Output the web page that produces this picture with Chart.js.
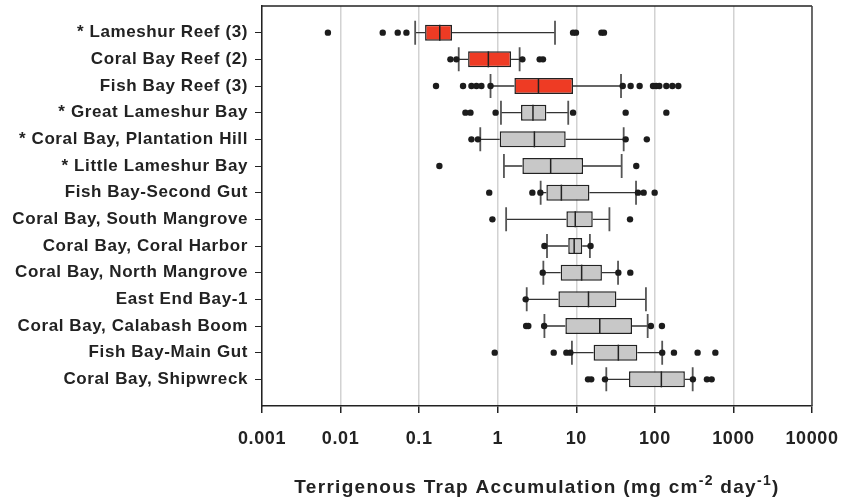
<!DOCTYPE html>
<html>
<head>
<meta charset="utf-8">
<script src="https://cdn.jsdelivr.net/npm/chart.js@4.4.0/dist/chart.umd.min.js"></script>
<style>
    body { margin: 0; background: #fff; }
    canvas { display: block; }
</style>
</head>
<body>
<canvas id="trapChart" width="841" height="503"></canvas>
<script>
(function () {
    'use strict';

    var sites = ['* Lameshur Reef (3)', 'Coral Bay Reef (2)', 'Fish Bay Reef (3)', '* Great Lameshur Bay',
        '* Coral Bay, Plantation Hill', '* Little Lameshur Bay', 'Fish Bay-Second Gut', 'Coral Bay, South Mangrove',
        'Coral Bay, Coral Harbor', 'Coral Bay, North Mangrove', 'East End Bay-1', 'Coral Bay, Calabash Boom',
        'Fish Bay-Main Gut', 'Coral Bay, Shipwreck'];

    // five-number summaries, mg cm-2 day-1
    var lowWhisker = [0.089, 0.319, 0.81, 1.1, 0.6, 1.2, 3.52, 1.28, 4.24, 3.81, 2.34, 3.93, 8.8, 24.1];
    var q1 = [0.119, 0.42, 1.63, 1.98, 1.06, 2.06, 4.16, 7.48, 7.9, 6.33, 5.92, 7.26, 16.6, 46.9];
    var median = [0.183, 0.76, 3.3, 2.81, 2.93, 4.72, 6.46, 9.7, 9.4, 11.7, 14.3, 19.9, 34.3, 121];
    var q3 = [0.262, 1.48, 9.08, 4.16, 7.33, 12.2, 14.7, 16.2, 11.9, 21.2, 32.4, 51.2, 59.8, 241];
    var highWhisker = [5.36, 1.9, 37.1, 7.9, 40.1, 37.8, 57.6, 26.4, 14.9, 34, 77, 81, 124, 303];

    var outliers = [
        [0.0069, 0.0344, 0.0534, 0.0689, 9.1, 9.9, 20.9, 22.5],
        [0.25, 0.298, 2.06, 3.42, 3.77],
        [0.164, 0.362, 0.463, 0.536, 0.62, 0.81, 39, 49.2, 64, 94.7, 104, 114, 140, 167, 199],
        [0.388, 0.45, 0.94, 9.1, 42.5, 140],
        [0.463, 0.56, 42.5, 79],
        [0.181, 58],
        [0.78, 2.76, 3.49, 61, 72, 99.4],
        [0.856, 48.3],
        [3.93, 15.2],
        [3.74, 34.3, 48.7],
        [2.27],
        [2.3, 2.45, 3.9, 89, 123],
        [0.916, 5.16, 7.48, 8.4, 124, 175, 350, 589],
        [14.1, 15.5, 23.2, 305, 460, 528]
    ];

    var xTicks = [0.001, 0.01, 0.1, 1, 10, 100, 1000, 10000];

    var FONT = '"Liberation Sans", Arial, sans-serif';
    var INK = '#222';

    // blank slots above and below so the rows sit half a step from the frame
    var labels = [''].concat(sites, ['']);

    var boxData = [null];
    var boxColors = [null];
    sites.forEach(function (name, i) {
        boxData.push([q1[i], q3[i]]);
        boxColors.push(name.indexOf('Reef') >= 0 ? '#ee3b24' : '#c8c8c8');
    });
    boxData.push(null);
    boxColors.push(null);

    var points = [];
    outliers.forEach(function (row, i) {
        row.forEach(function (v) {
            points.push({ x: v, y: sites[i] });
        });
    });

    var boxPlot = {
        id: 'boxPlot',
        beforeDraw: function (chart) {
            chart.ctx.letterSpacing = '0.6px';
        },
        beforeDatasetsDraw: function (chart) {
            var ctx = chart.ctx, xs = chart.scales.x, ys = chart.scales.y, area = chart.chartArea;
            var cap = (ys.getPixelForValue(2) - ys.getPixelForValue(1)) * 0.45;
            ctx.save();
            // top and right edges of the frame
            ctx.lineWidth = 1.5;
            ctx.strokeStyle = INK;
            ctx.beginPath();
            ctx.moveTo(area.left, area.top);
            ctx.lineTo(area.right, area.top);
            ctx.stroke();
            ctx.strokeStyle = '#444';
            ctx.beginPath();
            ctx.moveTo(area.right, area.top);
            ctx.lineTo(area.right, area.bottom);
            ctx.stroke();

            sites.forEach(function (name, i) {
                var y = ys.getPixelForValue(i + 1);
                var lo = xs.getPixelForValue(lowWhisker[i]);
                var hi = xs.getPixelForValue(highWhisker[i]);
                ctx.strokeStyle = '#333';
                ctx.lineWidth = 1.4;
                ctx.beginPath();
                ctx.moveTo(lo, y);
                ctx.lineTo(xs.getPixelForValue(q1[i]), y);
                ctx.moveTo(xs.getPixelForValue(q3[i]), y);
                ctx.lineTo(hi, y);
                ctx.stroke();
                ctx.strokeStyle = '#555';
                ctx.lineWidth = 1.8;
                ctx.beginPath();
                ctx.moveTo(lo, y - cap);
                ctx.lineTo(lo, y + cap);
                ctx.moveTo(hi, y - cap);
                ctx.lineTo(hi, y + cap);
                ctx.stroke();
            });
            ctx.restore();
        },
        afterDatasetsDraw: function (chart) {
            var ctx = chart.ctx, xs = chart.scales.x, ys = chart.scales.y;
            var half = (ys.getPixelForValue(2) - ys.getPixelForValue(1)) * 0.3;
            ctx.save();
            ctx.strokeStyle = INK;
            ctx.lineWidth = 1.5;
            sites.forEach(function (name, i) {
                var y = ys.getPixelForValue(i + 1);
                var m = xs.getPixelForValue(median[i]);
                ctx.beginPath();
                ctx.moveTo(m, y - half);
                ctx.lineTo(m, y + half);
                ctx.stroke();
            });
            ctx.restore();
        },
        afterDraw: function (chart) {
            // axis title with raised exponents
            var ctx = chart.ctx, area = chart.chartArea;
            var parts = [
                { t: 'Terrigenous Trap Accumulation (mg cm', sup: false },
                { t: '-2', sup: true },
                { t: ' day', sup: false },
                { t: '-1', sup: true },
                { t: ')', sup: false }
            ];
            var big = 'bold 19px ' + FONT, small = 'bold 14px ' + FONT;
            ctx.save();
            ctx.letterSpacing = '1.3px';
            ctx.fillStyle = INK;
            ctx.textBaseline = 'alphabetic';
            ctx.textAlign = 'left';
            var total = 0;
            parts.forEach(function (p) {
                ctx.font = p.sup ? small : big;
                p.w = ctx.measureText(p.t).width;
                total += p.w;
            });
            var x = (area.left + area.right) / 2 - total / 2;
            var base = 493;
            parts.forEach(function (p) {
                ctx.font = p.sup ? small : big;
                ctx.fillText(p.t, x, p.sup ? base - 8 : base);
                x += p.w;
            });
            ctx.restore();
        }
    };

    var ctx = document.getElementById('trapChart').getContext('2d');
    var chart = new Chart(ctx, {
        type: 'bar',
        data: {
            labels: labels,
            datasets: [{
                label: 'boxes',
                data: boxData,
                backgroundColor: boxColors,
                borderColor: INK,
                borderWidth: 1.5,
                borderSkipped: false,
                barPercentage: 0.6,
                categoryPercentage: 1,
                order: 2
            }, {
                type: 'scatter',
                label: 'outliers',
                data: points,
                pointRadius: 3.2,
                pointBackgroundColor: '#1c1c1c',
                pointBorderWidth: 0,
                order: 1
            }]
        },
        options: {
            indexAxis: 'y',
            responsive: false,
            devicePixelRatio: 1,
            animation: false,
            layout: { padding: { top: 6, right: 29, left: 0, bottom: 0 } },
            plugins: {
                legend: { display: false },
                tooltip: { enabled: false }
            },
            scales: {
                x: {
                    type: 'logarithmic',
                    min: 0.001,
                    max: 10000,
                    afterBuildTicks: function (scale) {
                        scale.ticks = xTicks.map(function (v) { return { value: v }; });
                    },
                    afterFit: function (scale) {
                        scale.height = 97;
                        scale.paddingLeft = 0;
                        scale.paddingRight = 0;
                    },
                    grid: { color: '#d2d2d2', lineWidth: 1.5, tickColor: INK, tickLength: 7 },
                    border: { color: INK, width: 1.5 },
                    ticks: {
                        padding: 15,
                        color: INK,
                        maxRotation: 0,
                        font: { family: FONT, size: 18, weight: 'bold' },
                        callback: function (v) { return String(v); }
                    }
                },
                y: {
                    type: 'category',
                    offset: false,
                    afterFit: function (scale) {
                        scale.width = 262;
                        scale.paddingTop = 0;
                        scale.paddingBottom = 0;
                    },
                    grid: {
                        offset: false,
                        drawOnChartArea: false,
                        tickLength: 7,
                        tickColor: function (c) {
                            return (c.index === 0 || c.index === labels.length - 1) ? 'rgba(0,0,0,0)' : INK;
                        }
                    },
                    border: { color: INK, width: 1.5 },
                    ticks: {
                        autoSkip: false,
                        padding: 7,
                        color: INK,
                        font: { family: FONT, size: 17, weight: 'bold' }
                    }
                }
            }
        },
        plugins: [boxPlot]
    });
}());
</script>
</body>
</html>
